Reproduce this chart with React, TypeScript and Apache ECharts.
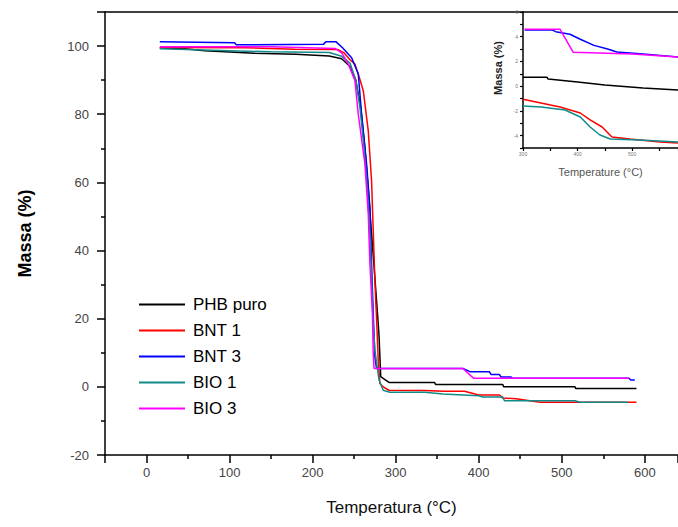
import React, { useEffect, useRef } from "react";
import * as echarts from "echarts";

// ---- main plot data: [temperature °C, mass %] ----
const seriesNames = ["PHB puro", "BNT 1", "BNT 3", "BIO 1", "BIO 3"];
const seriesColors = ["#000000", "#ff0000", "#0000ff", "#118a8a", "#ff00ff"];

const phbPuro = [
  [16, 99.4], [46, 99.2], [70, 98.6], [130, 97.9], [180, 97.6], [220, 97.1], [235, 96.3],
  [245, 94], [252, 90], [258, 82], [263, 70], [267, 58], [271, 45], [275, 32], [278, 22],
  [280, 15], [282, 3], [288, 2.0], [292, 1.3], [347, 1.3], [348, 0.7], [429, 0.7], [430, 0],
  [516, 0], [517, -0.5], [590, -0.5],
];
const bnt1 = [
  [16, 99.6], [120, 99.5], [179, 99.1], [230, 99.0], [238, 98], [245, 96], [251, 94.7],
  [256, 91], [261, 86.9], [267, 75.2], [271, 60.5], [273, 45.9], [275, 31], [277, 20],
  [279, 8], [281, 1], [285, 0], [292, -1.0], [335, -1.1], [357, -1.3], [383, -1.3],
  [400, -2.4], [425, -2.4], [429, -3.3], [445, -3.5], [474, -4.5], [590, -4.5],
];
const bnt3 = [
  [16, 101.3], [106, 101.0], [108, 100.4], [213, 100.5], [216, 101.3], [228, 101.3],
  [236, 99.5], [247, 96.6], [255, 91.8], [259, 80], [265, 65.4], [269, 52.7], [271, 36.1],
  [273, 21.5], [275, 8.8], [277, 5.4], [381, 5.4], [390, 4.4], [413, 4.4], [415, 3.6],
  [425, 3.6], [427, 2.9], [439, 2.9], [441, 2.5], [581, 2.5], [583, 2.0], [588, 2.0],
];
const bio1 = [
  [16, 99.2], [80, 98.8], [150, 98.3], [220, 98.1], [235, 97], [245, 95], [252, 90],
  [257, 82], [262, 70], [266, 58], [269, 45], [271, 32], [273, 18], [275, 10.7], [280, 2],
  [285, -1.0], [293, -1.6], [335, -1.6], [357, -2.1], [400, -2.6], [405, -3.0], [429, -3.0],
  [431, -4.1], [516, -4.1], [522, -4.5], [580, -4.5],
];
const bio3 = [
  [16, 99.8], [150, 99.8], [227, 99.3], [235, 98], [243, 94.7], [251, 89.8], [255, 80],
  [263, 65.4], [267, 50.8], [269, 36.2], [272, 21.5], [273, 10], [274, 5.4], [381, 5.4],
  [394, 2.5], [581, 2.5],
];
const mainData = [phbPuro, bnt1, bnt3, bio1, bio3];

// ---- inset data (its own axes) ----
const insetPhb = [
  [300, 0.72], [344, 0.72], [346, 0.58], [400, 0.34], [450, 0.1], [520, -0.15], [584, -0.31],
];
const insetBnt1 = [
  [300, -1.06], [335, -1.38], [368, -1.68], [405, -2.17], [423, -2.73], [445, -3.3],
  [463, -4.11], [496, -4.27], [551, -4.51], [584, -4.6],
];
const insetBnt3 = [
  [303, 4.55], [353, 4.55], [360, 4.41], [386, 4.2], [405, 3.8], [430, 3.3], [455, 3.0],
  [472, 2.77], [520, 2.6], [584, 2.36],
];
const insetBio1 = [
  [300, -1.6], [333, -1.68], [377, -1.93], [405, -2.49], [423, -3.3], [441, -3.95],
  [460, -4.27], [514, -4.35], [584, -4.51],
];
const insetBio3 = [
  [303, 4.6], [368, 4.6], [392, 2.74], [500, 2.6], [584, 2.36],
];
const insetData = [insetPhb, insetBnt1, insetBnt3, insetBio1, insetBio3];

const mainXMin = -50;
const mainXMax = 640;
const mainYMin = -20;
const mainYMax = 110;
const mainYStep = 20;
const insetXMin = 300;
const insetXMax = 584;
const insetXStep = 100;
const insetYMin = -5;
const insetYMax = 6;

const FONT = "Liberation Sans, Arial, sans-serif";

export default function App() {
  const ref = useRef<HTMLDivElement>(null);

  useEffect(() => {
    if (!ref.current) return;
    const chart = echarts.init(ref.current, undefined, { renderer: "svg" });

    const axisLine = { show: true, onZero: false, lineStyle: { color: "#000", width: 1.5 } };

    const series: any[] = [];
    seriesNames.forEach((name, i) => {
      series.push({
        name,
        type: "line",
        xAxisIndex: 0,
        yAxisIndex: 0,
        data: mainData[i],
        showSymbol: false,
        symbol: "none",
        lineStyle: { color: seriesColors[i], width: 1.5 },
        itemStyle: { color: seriesColors[i] },
        z: 3,
      });
    });
    seriesNames.forEach((name, i) => {
      series.push({
        name,
        type: "line",
        xAxisIndex: 2,
        yAxisIndex: 1,
        data: insetData[i],
        showSymbol: false,
        symbol: "none",
        lineStyle: { color: seriesColors[i], width: 1.5 },
        itemStyle: { color: seriesColors[i] },
        z: 3,
      });
    });

    chart.setOption({
      animation: false,
      backgroundColor: "#ffffff",
      textStyle: { fontFamily: FONT },
      grid: [
        { left: 105, top: 12, right: 0, bottom: 72 },
        { left: 523, top: 12, right: 0, height: 136 },
      ],
      legend: {
        data: seriesNames,
        orient: "vertical",
        left: 139,
        top: 296,
        padding: 0,
        itemWidth: 46,
        itemHeight: 2,
        itemGap: 9,
        icon: "rect",
        textStyle: { fontSize: 17, color: "#000", fontFamily: FONT, padding: [0, 0, 0, 3] },
      },
      xAxis: [
        {
          type: "value",
          gridIndex: 0,
          min: mainXMin,
          max: mainXMax,
          splitNumber: 7,
          name: "Temperatura (°C)",
          nameLocation: "middle",
          nameGap: 44,
          nameTextStyle: { fontSize: 17, color: "#111", fontFamily: FONT },
          axisLine,
          axisTick: { show: true, inside: false, length: 8, lineStyle: { color: "#000", width: 1.5 } },
          minorTick: { show: true, splitNumber: 2, length: 4, lineStyle: { color: "#000", width: 1.5 } },
          axisLabel: { fontSize: 13, color: "#444", margin: 11, showMinLabel: false, showMaxLabel: false },
          splitLine: { show: false },
        },
        {
          type: "value",
          gridIndex: 0,
          position: "top",
          min: mainXMin,
          max: mainXMax,
          axisLine,
          axisTick: { show: false },
          axisLabel: { show: false },
          splitLine: { show: false },
        },
        {
          type: "value",
          gridIndex: 1,
          min: insetXMin,
          max: insetXMax,
          interval: insetXStep,
          name: "Temperature (°C)",
          nameLocation: "middle",
          nameGap: 18,
          nameTextStyle: { fontSize: 11, color: "#555", fontFamily: FONT },
          axisLine,
          axisTick: { show: true, length: 3, lineStyle: { color: "#000", width: 1.2 } },
          minorTick: { show: true, splitNumber: 2, length: 3, lineStyle: { color: "#000", width: 1.2 } },
          axisLabel: { fontSize: 5, color: "#777", margin: 3, showMaxLabel: false },
          splitLine: { show: false },
        },
      ],
      yAxis: [
        {
          type: "value",
          gridIndex: 0,
          min: mainYMin,
          max: mainYMax,
          interval: mainYStep,
          name: "Massa (%)",
          nameLocation: "middle",
          nameGap: 71,
          nameTextStyle: { fontSize: 18, fontWeight: "bold", color: "#000", fontFamily: FONT },
          axisLine,
          axisTick: { show: true, length: 8, lineStyle: { color: "#000", width: 1.5 } },
          minorTick: { show: true, splitNumber: 2, length: 4, lineStyle: { color: "#000", width: 1.5 } },
          axisLabel: { fontSize: 13, color: "#444", margin: 16, showMaxLabel: false },
          splitLine: { show: false },
        },
        {
          type: "value",
          gridIndex: 1,
          min: insetYMin,
          max: insetYMax,
          splitNumber: 5,
          name: "Massa (%)",
          nameLocation: "middle",
          nameGap: 20,
          nameTextStyle: {
            fontSize: 11,
            fontWeight: "bold",
            color: "#222",
            fontFamily: FONT,
            padding: [0, 0, 0, 24],
          },
          axisLine,
          axisTick: { show: true, length: 3, lineStyle: { color: "#000", width: 1.2 } },
          minorTick: { show: true, splitNumber: 2, length: 3, lineStyle: { color: "#000", width: 1.2 } },
          axisLabel: { fontSize: 5, color: "#777", margin: 5, showMinLabel: false },
          splitLine: { show: false },
        },
      ],
      series,
    });

    return () => chart.dispose();
  }, []);

  return (
    <div
      ref={ref}
      style={{ position: "absolute", left: 0, top: 0, width: 678, height: 527, background: "#fff" }}
    />
  );
}
